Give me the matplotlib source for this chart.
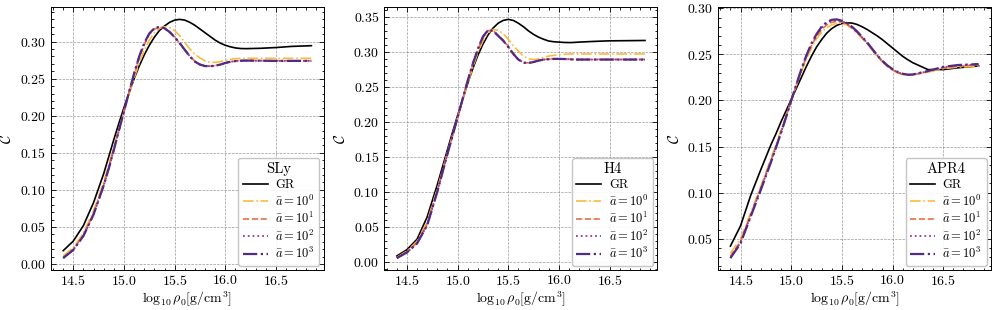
import matplotlib
matplotlib.use('Agg')
from matplotlib import pyplot as plt
from matplotlib.ticker import MultipleLocator

# log10 rho_0 grid used for every curve
rho = [14.4, 14.5, 14.6, 14.7, 14.8, 14.85, 14.9, 14.95, 15.0, 15.05, 15.1, 15.15, 15.2, 15.25,
       15.3, 15.35, 15.4, 15.45, 15.5, 15.55, 15.6, 15.65, 15.7, 15.75, 15.8, 15.85, 15.9, 15.95,
       16.0, 16.05, 16.1, 16.15, 16.2, 16.35, 16.5, 16.65, 16.85]

eos_names = ['SLy', 'H4', 'APR4']
labels = ['GR', r'$\bar{a}=10^0$', r'$\bar{a}=10^1$', r'$\bar{a}=10^2$', r'$\bar{a}=10^3$']

# compactness, SLy
sly_gr = [.018, .031, .052, .083, .122, .145, .168, .190, .211, .231, .250, .267, .282, .295,
          .306, .315, .321, .326, .329, .330, .329, .326, .322, .317, .312, .307, .302, .298,
          .295, .293, .2915, .2907, .2905, .291, .292, .2935, .2945]
sly_a1 = [.011, .022, .042, .072, .111, .134, .158, .182, .206, .229, .251, .271, .288, .302,
          .312, .318, .320, .319, .315, .308, .299, .290, .283, .278, .274, .2722, .272, .273,
          .2745, .276, .277, .2773, .2775, .2775, .2775, .2775, .2775]
sly_a10 = [.009, .020, .039, .068, .107, .130, .155, .181, .206, .231, .256, .278, .296, .310,
           .317, .3195, .318, .313, .306, .298, .289, .2805, .2735, .2693, .2672, .2668, .2675, .269,
           .2712, .2728, .2738, .2743, .2745, .2744, .2742, .2742, .2742]
sly_a100 = [.008, .019, .038, .067, .106, .129, .154, .180, .206, .232, .257, .279, .297, .3105,
            .3178, .3198, .318, .313, .306, .2975, .2885, .280, .273, .269, .267, .2668, .2675, .269,
            .2712, .2728, .2737, .2742, .2744, .2742, .274, .274, .274]
sly_a1000 = [.008, .019, .038, .067, .106, .129, .154, .180, .206, .232, .257, .280, .298, .311,
             .318, .320, .318, .313, .306, .298, .289, .280, .273, .269, .267, .2668, .2675, .269,
             .2712, .2728, .2737, .2742, .2744, .2742, .274, .274, .274]

# compactness, H4
h4_gr = [.008, .017, .032, .064, .110, .135, .160, .185, .209, .232, .255, .276, .295, .311,
         .324, .334, .341, .345, .3465, .345, .341, .336, .330, .325, .321, .318, .3155, .3145,
         .314, .3135, .3133, .3135, .314, .315, .3158, .316, .3163]
h4_a1 = [.006, .015, .029, .057, .104, .130, .156, .181, .206, .231, .255, .278, .299, .316,
         .327, .332, .331, .326, .318, .309, .301, .294, .290, .289, .290, .292, .294, .295,
         .296, .2965, .297, .297, .297, .297, .297, .297, .297]
h4_a10 = [.005, .014, .027, .054, .101, .128, .155, .180, .206, .232, .258, .282, .303, .320,
          .3305, .3305, .324, .317, .308, .298, .2895, .2848, .2842, .2857, .2877, .2891, .2896, .2900,
          .2900, .2898, .2895, .2892, .2892, .2892, .2892, .2892, .2892]
h4_a100 = [.005, .013, .026, .052, .100, .127, .154, .180, .206, .233, .259, .283, .304, .3215,
           .331, .3302, .3232, .3162, .3072, .2972, .2892, .2846, .2841, .2856, .2876, .289, .2895, .2899,
           .2899, .2897, .2894, .289, .289, .289, .289, .289, .289]
h4_a1000 = [.005, .013, .026, .052, .100, .127, .154, .180, .206, .233, .259, .283, .304, .322,
            .331, .330, .323, .316, .307, .297, .289, .2845, .284, .2855, .2875, .289, .2895, .290,
            .290, .2898, .2895, .289, .289, .289, .289, .289, .289]

# compactness, APR4
apr4_gr = [.042, .064, .097, .125, .152, .164, .177, .189, .201, .213, .225, .237, .248, .258,
           .266, .273, .278, .2815, .2835, .2842, .284, .2825, .280, .277, .2735, .270, .266, .2615,
           .257, .2525, .248, .2443, .241, .2335, .2335, .2355, .2375]
apr4_a1 = [.034, .050, .078, .107, .137, .152, .168, .184, .200, .216, .231, .245, .257, .267,
           .274, .279, .282, .2838, .2838, .282, .278, .273, .2675, .2615, .2545, .2478, .2418, .2368,
           .2328, .2298, .2282, .2275, .2277, .2308, .2345, .2362, .237]
apr4_a10 = [.031, .047, .076, .105, .135, .150, .166, .183, .200, .2165, .2325, .247, .2595, .2695,
            .277, .282, .2848, .2858, .2852, .2828, .2788, .2738, .268, .262, .255, .2483, .2422, .2372,
            .2333, .2303, .2285, .2277, .2279, .2312, .2355, .2375, .2385]
apr4_a100 = [.029, .046, .075, .104, .134, .1495, .1655, .1825, .200, .217, .2335, .2485, .261, .271,
             .2788, .2838, .2865, .2872, .2862, .2835, .2795, .2745, .2685, .2625, .2555, .2487, .2427, .2377,
             .2337, .2307, .2288, .2279, .2281, .2316, .236, .238, .239]
apr4_a1000 = [.029, .045, .074, .103, .133, .149, .165, .182, .200, .217, .234, .249, .262, .272,
              .280, .285, .2875, .288, .2865, .284, .280, .275, .269, .263, .256, .249, .243, .238,
              .234, .231, .229, .228, .2282, .232, .2365, .2385, .2395]

all_curves = [
    [sly_gr, sly_a1, sly_a10, sly_a100, sly_a1000],
    [h4_gr, h4_a1, h4_a10, h4_a100, h4_a1000],
    [apr4_gr, apr4_a1, apr4_a10, apr4_a100, apr4_a1000],
]

colors = ['black', '#fbbb3f', '#e8704c', '#a13a8e', '#4f2a86']
styles = ['-', '-.', '--', ':', '-.']
widths = [1.2, 1.2, 1.2, 1.3, 1.6]

plt.rcParams['font.family'] = 'serif'
plt.rcParams['font.serif'] = ['cmr10']
plt.rcParams['mathtext.fontset'] = 'cm'
plt.rcParams['axes.formatter.use_mathtext'] = True
plt.rcParams['axes.unicode_minus'] = False

fig, axes = plt.subplots(1, 3, figsize=(9.96, 3.1), dpi=100)
fig.subplots_adjust(left=0.051, right=0.995, bottom=0.129, top=0.976, wspace=0.222)

for ax, name, curves in zip(axes, eos_names, all_curves):
    for y, lab, c, ls, lw in zip(curves, labels, colors, styles, widths):
        ax.plot(rho, y, color=c, linestyle=ls, linewidth=lw, label=lab)
    ax.set_xlabel(r'$\log_{10}\rho_0[\mathrm{g/cm^3}]$', fontsize=10, labelpad=1)
    ax.set_ylabel(r'$\mathcal{C}$', fontsize=11)
    ax.xaxis.set_major_locator(MultipleLocator(0.5))
    ax.xaxis.set_minor_locator(MultipleLocator(0.1))
    ax.yaxis.set_major_locator(MultipleLocator(0.05))
    ax.yaxis.set_minor_locator(MultipleLocator(0.01))
    ax.tick_params(which='both', direction='in', top=True, right=True, labelsize=10, width=0.6)
    ax.tick_params(axis='x', pad=3)
    ax.tick_params(which='major', length=3.5)
    ax.tick_params(which='minor', length=1.8)
    for sp in ax.spines.values():
        sp.set_linewidth(0.7)
    ax.grid(True, linestyle='--', color='gray', linewidth=0.5, alpha=0.8)
    leg = ax.legend(title=name, loc='lower right', fontsize=9, title_fontsize=10.5,
                    handlelength=2.0, handletextpad=0.6, labelspacing=0.2,
                    borderaxespad=0.35, borderpad=0.35, fancybox=True, edgecolor='0.75',
                    framealpha=0.9)

fig.savefig('out.png', dpi=100)
